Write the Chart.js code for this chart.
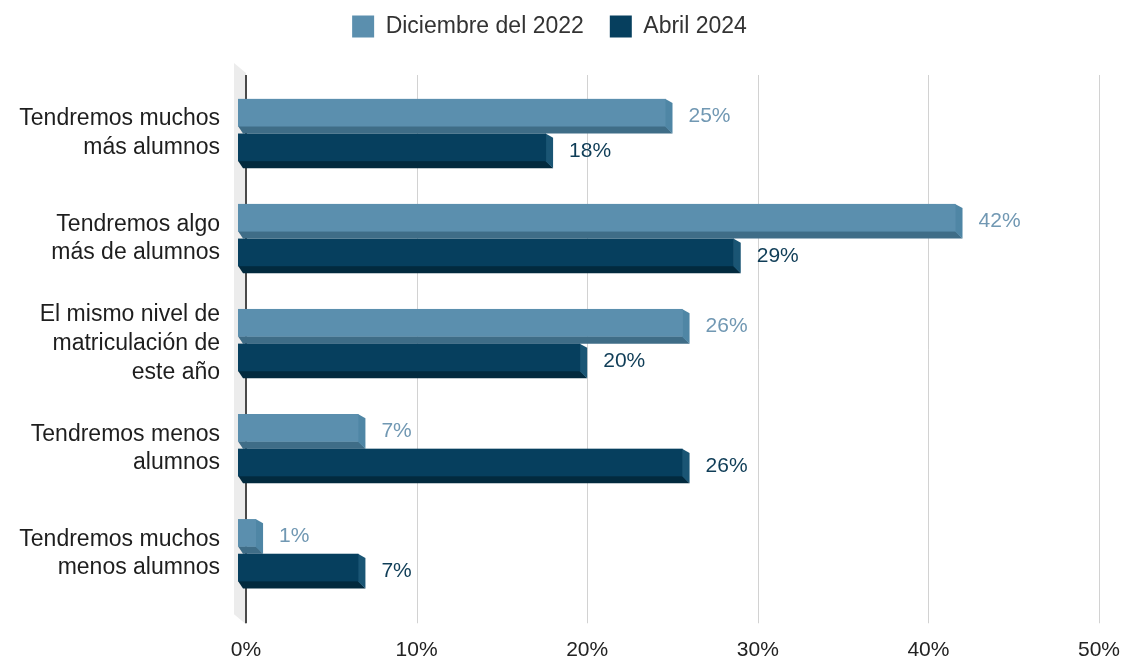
<!DOCTYPE html>
<html>
<head>
<meta charset="utf-8">
<script src="https://cdn.jsdelivr.net/npm/chart.js@4"></script>
<style>
  html, body { margin: 0; padding: 0; background: #fff; }
  #wrap { width: 1121px; height: 661px; }
</style>
</head>
<body>
<div id="wrap"><canvas id="chart" width="1121" height="661"></canvas></div>
<script>
// Data
const categories = [
  ['Tendremos muchos', 'más alumnos'],
  ['Tendremos algo', 'más de alumnos'],
  ['El mismo nivel de', 'matriculación de', 'este año'],
  ['Tendremos menos', 'alumnos'],
  ['Tendremos muchos', 'menos alumnos']
];
const dic2022 = [25, 42, 26, 7, 1];
const abr2024 = [18, 29, 20, 26, 7];
const xTicks = [0, 10, 20, 30, 40, 50];

const FONT = 'Liberation Sans, Arial, sans-serif';

// colours for the fake 3D boxes: front, bottom face, side face, label
const faces = [
  { front: '#5b8fae', bottom: '#3f6d87', side: '#4f86a5', label: '#7198b3' },
  { front: '#063f5e', bottom: '#022a3e', side: '#1a5574', label: '#0f3d57' }
];
const DEPTH = 7;

// light wall + grid lines + zero line, drawn behind the bars
const backdrop = {
  id: 'backdrop',
  beforeLayout(chart) {
    // give the legend a fixed height so the plot starts where the original does
    const lg = chart.legend;
    if (lg && !lg._fixed) {
      const fit = lg.fit;
      lg.fit = function () { fit.call(this); this.height = 92; };
      lg._fixed = true;
    }
  },
  beforeDatasetsDraw(chart) {
    const { ctx, chartArea } = chart;
    const x = chart.scales.x;
    const x0 = x.getPixelForValue(0);
    const top = chartArea.top, bottom = chartArea.bottom;
    ctx.save();
    // wall
    ctx.fillStyle = '#ececec';
    ctx.beginPath();
    ctx.moveTo(x0 - 12, top - 18);
    ctx.lineTo(x0, top - 8);
    ctx.lineTo(x0, bottom + 18);
    ctx.lineTo(x0 - 12, bottom + 8);
    ctx.closePath();
    ctx.fill();
    // grid
    ctx.lineWidth = 1;
    ctx.strokeStyle = '#d2d2d2';
    xTicks.slice(1).forEach(v => {
      const px = Math.round(x.getPixelForValue(v)) + 0.5;
      ctx.beginPath();
      ctx.moveTo(px, top - 6);
      ctx.lineTo(px, bottom + 17);
      ctx.stroke();
    });
    // zero line
    ctx.strokeStyle = '#4a4a4a';
    ctx.lineWidth = 2;
    ctx.beginPath();
    ctx.moveTo(x0, top - 6);
    ctx.lineTo(x0, bottom + 17);
    ctx.stroke();
    ctx.restore();
  },
  // skip the flat bars, the boxes are drawn below
  beforeDatasetDraw() {
    return false;
  },
  afterDatasetsDraw(chart) {
    const { ctx } = chart;
    ctx.save();
    chart.data.datasets.forEach((ds, di) => {
      const c = faces[di];
      chart.getDatasetMeta(di).data.forEach((bar, i) => {
        const p = bar.getProps(['x', 'y', 'base', 'height'], true);
        const left = p.base, right = p.x;
        const top = p.y - p.height / 2, bottom = p.y + p.height / 2;
        const d = DEPTH;
        // bottom face
        ctx.fillStyle = c.bottom;
        ctx.beginPath();
        ctx.moveTo(left - d - 1, bottom - d - 0.5);
        ctx.lineTo(right - d, bottom - d - 0.5);
        ctx.lineTo(right, bottom);
        ctx.lineTo(left - 3, bottom);
        ctx.closePath();
        ctx.fill();
        // side face
        ctx.fillStyle = c.side;
        ctx.beginPath();
        ctx.moveTo(right - d - 0.5, top);
        ctx.lineTo(right, top + d * 0.6);
        ctx.lineTo(right, bottom);
        ctx.lineTo(right - d - 0.5, bottom - d);
        ctx.closePath();
        ctx.fill();
        // front
        ctx.fillStyle = c.front;
        ctx.fillRect(left - d - 1, top, right - left + 1, p.height - d);
        // value label
        ctx.fillStyle = c.label;
        ctx.font = '21px ' + FONT;
        ctx.textAlign = 'left';
        ctx.textBaseline = 'middle';
        ctx.fillText(ds.data[i] + '%', right + 16, p.y);
      });
    });
    ctx.restore();
  }
};

new Chart(document.getElementById('chart'), {
  type: 'bar',
  data: {
    labels: categories,
    datasets: [
      { label: 'Diciembre del 2022', data: dic2022, backgroundColor: faces[0].front },
      { label: 'Abril 2024', data: abr2024, backgroundColor: faces[1].front }
    ]
  },
  options: {
    indexAxis: 'y',
    responsive: false,
    animation: false,
    categoryPercentage: 0.66,
    barPercentage: 1,
    layout: { padding: { top: -11, right: 22, bottom: 0, left: 0 } },
    plugins: {
      tooltip: { enabled: false },
      legend: {
        position: 'top',
        labels: {
          boxWidth: 22,
          boxHeight: 22,
          padding: 26,
          color: '#333',
          font: { family: FONT, size: 23 }
        }
      }
    },
    scales: {
      x: {
        min: 0,
        max: 50,
        afterFit(scale) {
          scale.height = 53;
          scale.paddingLeft = 0;
          scale.paddingRight = 0;
        },
        afterBuildTicks(scale) { scale.ticks = xTicks.map(v => ({ value: v })); },
        grid: { display: false, drawTicks: false },
        border: { display: false },
        ticks: {
          padding: 31,
          color: '#222',
          font: { family: FONT, size: 21 },
          callback: v => v + '%'
        }
      },
      y: {
        afterFit(scale) { scale.width = 246; },
        grid: { display: false, drawTicks: false },
        border: { display: false },
        ticks: {
          padding: 26,
          color: '#1e1e1e',
          font: { family: FONT, size: 23, lineHeight: 1.25 }
        }
      }
    }
  },
  plugins: [backdrop]
});
</script>
</body>
</html>
